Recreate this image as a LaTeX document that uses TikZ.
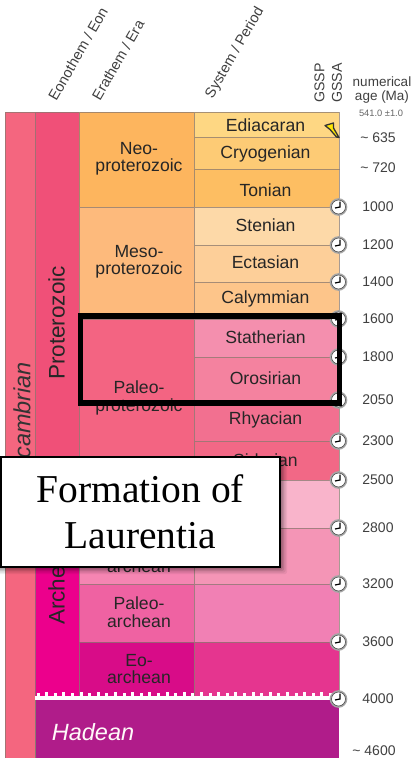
\documentclass[tikz,border=0pt]{standalone}
\usepackage{fontspec}
\setmainfont{Liberation Sans}
\newfontfamily\boxfont{Liberation Serif}
\usetikzlibrary{calc}
\definecolor{cHad}{HTML}{B01C8A}
\definecolor{tickgray}{HTML}{8A7A70}
\tikzset{
  x=1pt,y=-1pt,
  band/.style={fill=#1,draw=tickgray,draw opacity=.75,line width=.7pt},
  lab/.style={font=\fontsize{17.6}{17.5}\selectfont,text=black!85,inner sep=0,align=center},
  hdr/.style={font=\fontsize{14.5}{15}\selectfont,text=black!75,inner sep=0,rotate=60},
  gss/.style={font=\fontsize{14.2}{15}\selectfont,text=black!75,inner sep=0,rotate=90,anchor=west},
  age/.style={font=\fontsize{14}{15}\selectfont,text=black!75,inner sep=0},
}
\newcommand{\bandrect}[5]{\definecolor{tmpband}{HTML}{#5}\path[band=tmpband] (#1,#2) rectangle (#3,#4);}
\newcommand{\clockat}[1]{%
  \draw[fill=white,draw=black!35,line width=1.6pt] (338.5,#1) circle (8pt);
  \draw[draw=black!70,line width=.6pt] (338.5,#1) circle (7pt);
  \draw[black,line width=1.2pt] (340,#1-5.5) -- (340,#1) -- (335,#1+1);
}
\begin{document}
\begin{tikzpicture}
\useasboundingbox[fill=white] (0,0) rectangle (417,758);
% eon columns
\bandrect{5}{112}{35}{758}{F4667F}
\bandrect{35}{112}{79}{480}{F05078}
\bandrect{35}{480}{79}{700}{EC008C}
% eras
\bandrect{79}{112}{194}{207}{FDB55E}
\bandrect{79}{207}{194}{319}{FDBA7C}
\bandrect{79}{319}{194}{480}{F36482}
\bandrect{79}{480}{194}{528}{F9B4CB}
\bandrect{79}{528}{194}{584}{F585B2}
\bandrect{79}{584}{194}{642}{EF62A2}
\bandrect{79}{642}{194}{697}{D80C88}
% periods
\bandrect{194}{112}{339}{137}{FED783}
\bandrect{194}{137}{339}{169}{FDCB75}
\bandrect{194}{169}{339}{207}{FDBE62}
\bandrect{194}{207}{339}{245}{FDD9A8}
\bandrect{194}{245}{339}{282}{FDCF99}
\bandrect{194}{282}{339}{319}{FDC58A}
\bandrect{194}{319}{339}{357}{F48FAE}
\bandrect{194}{357}{339}{400}{F4829F}
\bandrect{194}{400}{339}{441}{F27090}
\bandrect{194}{441}{339}{480}{F26886}
\bandrect{194}{480}{339}{528}{F9B4CB}
\bandrect{194}{528}{339}{584}{F495B6}
\bandrect{194}{584}{339}{642}{F180B4}
\bandrect{194}{642}{339}{697}{E5358F}
% Hadean
\path[fill=cHad] (35,700) rectangle (339,758);
\draw[draw=tickgray,line width=.7pt] (35,700) -- (35,758);
% unconformity
\path[fill=white] (35,695.5) rectangle (335,700);
\foreach \k in {0,...,34}{
  \pgfmathsetmacro{\toptooth}{isodd(\k) ? 691.8 : 693.2}
  \path[fill=white] ({36.5+8.6*\k},\toptooth) rectangle ({39.5+8.6*\k},696);
}
% column labels
\node[hdr] (eonh) at (78,54) {Eonothem / Eon};
\node[hdr] (erah) at (118,60) {Erathem / Era};
\node[hdr] (sysh) at (235,53) {System / Period};
\node[gss] (gssp) at (319.5,103) {GSSP};
\node[gss] (gssa) at (337,103) {GSSA};
\node[font=\fontsize{13.5}{14}\selectfont,text=black!75,inner sep=0,align=center] (numh) at (382,90) {numerical\\age (Ma)};
\node[font=\fontsize{9.3}{10}\selectfont,text=black!60,inner sep=0] (a541) at (381,113.5) {541.0 ±1.0};
% eon text
\node[font=\fontsize{23.5}{24}\selectfont\itshape,text=black!80,inner sep=0,rotate=90] (prec) at (22,428.6) {Precambrian};
\node[font=\fontsize{22.5}{24}\selectfont,text=black!85,inner sep=0,rotate=90] (prot) at (56.5,323) {Proterozoic};
\node[font=\fontsize{22.5}{24}\selectfont,text=black!85,inner sep=0,rotate=90,anchor=west] (arch) at (56.5,625) {Archean};
% era text
\node[lab] (eneo) at (139,159) {Neo-\\proterozoic};
\node[lab] (emes) at (139,262) {Meso-\\proterozoic};
\node[lab] (epal) at (139,398) {Paleo-\\proterozoic};
\node[lab] (emar) at (139,566) {archean};
\node[lab] (epar) at (139,612) {Paleo-\\archean};
\node[lab] (eeoa) at (139,669) {Eo-\\archean};
% period text
\node[lab] (p1) at (265.5,125) {Ediacaran};
\node[lab] (p2) at (265.5,154) {Cryogenian};
\node[lab] (p3) at (265.5,190) {Tonian};
\node[lab] (p4) at (265.5,225) {Stenian};
\node[lab] (p5) at (265.5,262) {Ectasian};
\node[lab] (p6) at (265.5,299) {Calymmian};
\node[lab] (p7) at (265.5,337) {Statherian};
\node[lab] (p8) at (265.5,378) {Orosirian};
\node[lab] (p9) at (265.5,420) {Rhyacian};
\node[lab] (p10) at (265.5,460) {Siderian};
\node[font=\fontsize{23.5}{24}\selectfont\itshape,text=white!90!pink,inner sep=0] (had) at (93,732) {Hadean};
% spike
\path[fill=yellow!90!orange,draw=black!80,line width=1.3pt,line join=round] (325,125.5) -- (333.5,123) -- (333.5,128) -- (339,137.5) -- (336.5,137) -- (330,129.5) -- cycle;
% clocks
\foreach \y in {207,245,282,319,357,400,441,480,528,584,642,699}{\clockat{\y}}
% ages
\node[age] (t1) at (378,138) {\textasciitilde\ 635};
\node[age] (t2) at (378,168) {\textasciitilde\ 720};
\node[age] (t3) at (378,207) {1000};
\node[age] (t4) at (378,245) {1200};
\node[age] (t5) at (378,282) {1400};
\node[age] (t6) at (378,319) {1600};
\node[age] (t7) at (378,357) {1800};
\node[age] (t8) at (378,400) {2050};
\node[age] (t9) at (378,441) {2300};
\node[age] (t10) at (378,480) {2500};
\node[age] (t11) at (378,528) {2800};
\node[age] (t12) at (378,584) {3200};
\node[age] (t13) at (378,642) {3600};
\node[age] (t14) at (378,699) {4000};
\node[age] (t15) at (374,751) {\textasciitilde\ 4600};
% highlight box
\draw[black,line width=5.5pt] (80.5,316) rectangle (339.5,403);
% caption shadow
\foreach \d/\o in {8/.06,6.5/.08,5/.1,3.5/.12,2/.14}{
  \path[fill=black,fill opacity=\o,rounded corners=2pt] (-2,{456+8-\d}) rectangle ({279+\d},{566+\d});
}
\node[draw=black,line width=1.8pt,fill=white,minimum width=279pt,minimum height=110pt,inner sep=0,anchor=north west,align=center,font=\boxfont\fontsize{39.5}{46}\selectfont] (cap) at (0,456) {Formation of\\Laurentia};
\end{tikzpicture}
\end{document}
